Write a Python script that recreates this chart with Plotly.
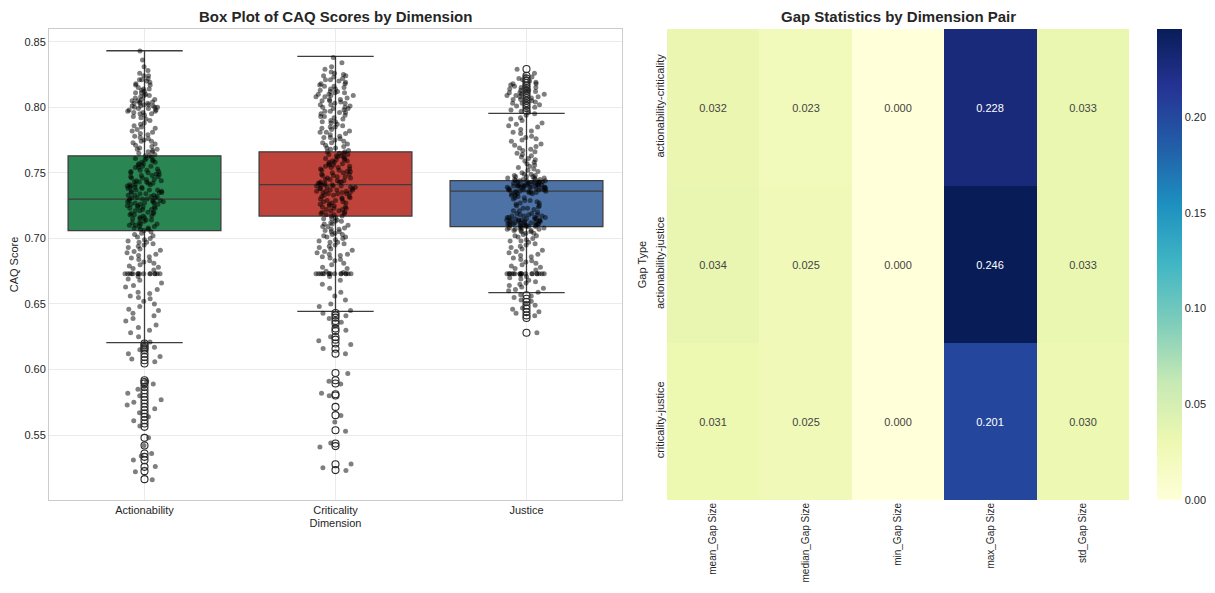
import plotly.graph_objects as go
import plotly.colors as pc

# ---------------- data ----------------
DIMENSIONS = ["Actionability", "Criticality", "Justice"]
BOX_COLORS = ["#2a8753", "#c0433b", "#4c72a6"]

# box statistics
Q1 = [0.706, 0.717, 0.709]
MEDIAN = [0.730, 0.741, 0.736]
Q3 = [0.763, 0.766, 0.744]
LOWER_WHISKER = [0.6205, 0.6444, 0.6586]
UPPER_WHISKER = [0.8431, 0.8388, 0.7954]

# outliers (open circles)
ACT_OUTLIERS = [0.6198, 0.6185, 0.6172, 0.6160, 0.6147, 0.6121, 0.6096, 0.6071, 0.6046,
                0.5918, 0.5905, 0.5893, 0.5868, 0.5842, 0.5817, 0.5791, 0.5766, 0.5741,
                0.5715, 0.5690, 0.5664, 0.5639, 0.5614, 0.5588, 0.5563,
                0.5479, 0.5421, 0.5360, 0.5334, 0.5309, 0.5258, 0.5225, 0.5164]
CRI_OUTLIERS = [0.6431, 0.6413, 0.6396, 0.6370, 0.6350, 0.6312, 0.6294, 0.6248, 0.6228,
                0.6198, 0.6159, 0.6121, 0.5974, 0.5918, 0.5893, 0.5812, 0.5802, 0.5715,
                0.5652, 0.5537, 0.5436, 0.5416, 0.5278, 0.5233]
JUS_OUTLIERS = [0.8292, 0.8241, 0.8220, 0.8203, 0.8185, 0.8165, 0.8146, 0.8127, 0.8108,
                0.8089, 0.8070, 0.8051, 0.8032, 0.8013, 0.7994, 0.7974,
                0.6566, 0.6540, 0.6515, 0.6489, 0.6464, 0.6438, 0.6413, 0.6393, 0.6281]

# individual scores (strip points)
ACT_POINTS = [
    0.843, 0.836, 0.831, 0.828,
    0.826, 0.824, 0.824, 0.822, 0.821, 0.821, 0.820, 0.819,
    0.818, 0.817, 0.817, 0.815, 0.814, 0.814, 0.813, 0.812, 0.811, 0.811, 0.810, 0.809, 0.809, 0.808,
    0.807, 0.806, 0.806, 0.805, 0.805, 0.804, 0.804, 0.803, 0.803, 0.803, 0.802, 0.802, 0.801, 0.801,
    0.801, 0.800, 0.800, 0.800, 0.799, 0.799, 0.798, 0.798, 0.797, 0.797, 0.796, 0.796, 0.795, 0.795, 0.794,
    0.793, 0.792, 0.791, 0.790, 0.788, 0.787, 0.786, 0.785, 0.784, 0.783, 0.782, 0.781, 0.780, 0.779, 0.778,
    0.777, 0.776, 0.775, 0.774, 0.774, 0.773, 0.772, 0.771, 0.770, 0.769, 0.768, 0.768, 0.767, 0.766, 0.766, 0.765,
    0.764, 0.763, 0.763, 0.762, 0.761, 0.761, 0.760, 0.760, 0.759, 0.758, 0.758, 0.757, 0.757, 0.756, 0.755,
    0.755, 0.754, 0.754, 0.753, 0.752, 0.752, 0.751, 0.751, 0.750, 0.750, 0.749, 0.749, 0.748, 0.748, 0.747,
    0.747, 0.746, 0.746, 0.745, 0.745,
    0.744, 0.744, 0.743, 0.743, 0.743, 0.742, 0.742, 0.741, 0.741, 0.741, 0.740, 0.740, 0.739, 0.739, 0.739,
    0.738, 0.738, 0.737, 0.737, 0.737, 0.736, 0.736, 0.735, 0.735, 0.735, 0.734, 0.734, 0.733, 0.733, 0.733,
    0.732, 0.732, 0.731, 0.731, 0.731, 0.730, 0.730, 0.730, 0.729, 0.729, 0.729, 0.728, 0.728, 0.728, 0.727,
    0.727, 0.727, 0.726, 0.726, 0.726, 0.725, 0.725, 0.724, 0.724, 0.724, 0.723, 0.723, 0.722, 0.722, 0.721,
    0.721, 0.720, 0.720,
    0.719, 0.719, 0.718, 0.718, 0.717, 0.717, 0.716, 0.716, 0.715, 0.715, 0.714, 0.714, 0.713, 0.712, 0.712,
    0.711, 0.711, 0.710, 0.710, 0.709, 0.709, 0.708, 0.708, 0.707, 0.707, 0.706,
    0.705, 0.704, 0.703, 0.702, 0.701, 0.700, 0.699, 0.698, 0.697, 0.697, 0.696, 0.695, 0.694, 0.693, 0.692,
    0.691, 0.690, 0.689, 0.688, 0.687, 0.686, 0.685, 0.684, 0.683, 0.682, 0.681, 0.680, 0.679, 0.678, 0.677, 0.676,
    0.673, 0.673, 0.673, 0.673, 0.673, 0.673, 0.673, 0.673, 0.673, 0.673, 0.673, 0.673, 0.673, 0.673, 0.673,
    0.671, 0.669, 0.668, 0.666, 0.664, 0.663, 0.661, 0.659, 0.658, 0.656, 0.655, 0.654,
    0.652, 0.650, 0.648, 0.646, 0.645, 0.643, 0.641, 0.639, 0.637, 0.634, 0.632, 0.630, 0.628, 0.625,
    0.621, 0.619, 0.617, 0.615, 0.612, 0.610, 0.608, 0.606,
    0.591, 0.589, 0.587, 0.585, 0.582, 0.580, 0.577, 0.575, 0.573, 0.570, 0.567, 0.564, 0.561, 0.557,
    0.548, 0.542, 0.536, 0.534, 0.531, 0.526, 0.522, 0.516,
]
CRI_POINTS = [
    0.838, 0.834, 0.831, 0.829, 0.827,
    0.826, 0.825, 0.824, 0.824, 0.823, 0.822, 0.821, 0.821, 0.820, 0.819, 0.818, 0.818, 0.817, 0.816,
    0.816, 0.815, 0.814, 0.814, 0.813, 0.812, 0.812, 0.811, 0.811, 0.810, 0.810,
    0.809, 0.809, 0.808, 0.808, 0.807, 0.806, 0.806, 0.805, 0.805, 0.804, 0.803, 0.803, 0.802, 0.802,
    0.801, 0.800, 0.800, 0.799, 0.799, 0.798, 0.797, 0.797, 0.796, 0.796, 0.795,
    0.794, 0.793, 0.793, 0.792, 0.791, 0.790, 0.789, 0.789, 0.788, 0.787, 0.786, 0.785, 0.785, 0.784,
    0.783, 0.782, 0.781, 0.781, 0.780, 0.779, 0.778, 0.777, 0.777, 0.776, 0.775, 0.774, 0.773, 0.773,
    0.772, 0.771, 0.770, 0.769, 0.769, 0.768, 0.767,
    0.766, 0.766, 0.765, 0.765, 0.764, 0.764, 0.763, 0.763, 0.762, 0.762, 0.761, 0.761, 0.760, 0.760,
    0.759, 0.759, 0.758, 0.758, 0.757, 0.757, 0.756, 0.756, 0.755, 0.755, 0.754, 0.754, 0.753, 0.753,
    0.752, 0.752, 0.751, 0.751, 0.750, 0.750, 0.749, 0.749, 0.748, 0.748, 0.747, 0.747, 0.746, 0.746,
    0.745, 0.745,
    0.744, 0.744, 0.743, 0.743, 0.743, 0.742, 0.742, 0.742, 0.741, 0.741, 0.741, 0.740, 0.740, 0.740,
    0.739, 0.739, 0.739, 0.738, 0.738, 0.738, 0.737, 0.737, 0.737, 0.736, 0.736, 0.736, 0.735, 0.735,
    0.735, 0.734, 0.734, 0.734, 0.733, 0.733, 0.732, 0.732, 0.731, 0.731, 0.730, 0.730, 0.729, 0.729,
    0.728, 0.728, 0.727, 0.727, 0.726, 0.726, 0.725, 0.725,
    0.724, 0.724, 0.723, 0.723, 0.722, 0.722, 0.721, 0.721, 0.720, 0.720, 0.719, 0.719, 0.718, 0.718,
    0.717, 0.717,
    0.716, 0.715, 0.715, 0.714, 0.713, 0.713, 0.712, 0.711, 0.711, 0.710, 0.709, 0.709, 0.708, 0.707,
    0.707, 0.706, 0.705, 0.705, 0.704, 0.703, 0.703, 0.702, 0.701, 0.701, 0.700,
    0.699, 0.698, 0.697, 0.697, 0.696, 0.695, 0.694, 0.693, 0.692, 0.691, 0.690, 0.689, 0.688, 0.688,
    0.687, 0.686, 0.685,
    0.684, 0.683, 0.681, 0.680, 0.678, 0.677, 0.675, 0.674,
    0.673, 0.673, 0.673, 0.673, 0.673, 0.673, 0.673, 0.673, 0.673, 0.673, 0.673, 0.673, 0.673, 0.673, 0.673,
    0.671, 0.668, 0.665, 0.662, 0.659, 0.656,
    0.653, 0.650, 0.648, 0.645, 0.643, 0.641,
    0.639, 0.636, 0.633, 0.630, 0.625, 0.622, 0.619, 0.616, 0.612,
    0.597, 0.591, 0.589, 0.582, 0.580,
    0.565, 0.560, 0.553, 0.544, 0.541,
    0.528, 0.525, 0.523,
]
JUS_POINTS = [
    0.829, 0.826, 0.824, 0.823, 0.822, 0.821, 0.820, 0.819, 0.818, 0.818, 0.817, 0.816, 0.816, 0.815,
    0.815, 0.814, 0.814, 0.813, 0.813, 0.812, 0.812, 0.811, 0.811, 0.810, 0.810, 0.809, 0.809, 0.808,
    0.808, 0.807, 0.806, 0.806, 0.805, 0.805, 0.804, 0.803, 0.803, 0.802, 0.801, 0.800,
    0.799, 0.798, 0.797, 0.796, 0.795,
    0.794, 0.792, 0.791, 0.790, 0.788, 0.787, 0.786, 0.785, 0.783, 0.782, 0.781, 0.780, 0.778, 0.777,
    0.776, 0.775, 0.774, 0.772, 0.771, 0.770, 0.769, 0.768, 0.767, 0.766, 0.765, 0.764, 0.763, 0.762,
    0.761, 0.760, 0.759, 0.758, 0.757, 0.756, 0.755, 0.754, 0.753, 0.752, 0.751, 0.750,
    0.749, 0.749, 0.748, 0.748, 0.747, 0.747, 0.747, 0.746, 0.746, 0.746, 0.745, 0.745, 0.745, 0.745,
    0.744, 0.744, 0.744, 0.744, 0.743, 0.743, 0.743, 0.743, 0.743, 0.742, 0.742, 0.742, 0.742, 0.742,
    0.741, 0.741, 0.741, 0.741, 0.741, 0.741, 0.740, 0.740, 0.740, 0.740, 0.740, 0.740, 0.739, 0.739,
    0.739, 0.739, 0.739, 0.739, 0.738, 0.738, 0.738, 0.738, 0.738, 0.737, 0.737, 0.737, 0.737, 0.737,
    0.736, 0.736, 0.736, 0.736, 0.735, 0.735, 0.735, 0.735, 0.734, 0.734, 0.734,
    0.733, 0.733, 0.732, 0.731, 0.731, 0.730, 0.729, 0.729, 0.728, 0.727, 0.727, 0.726, 0.725, 0.725,
    0.724, 0.723, 0.723, 0.722, 0.721, 0.721, 0.720,
    0.719, 0.719, 0.718, 0.718, 0.718, 0.717, 0.717, 0.717, 0.716, 0.716, 0.716, 0.716, 0.715, 0.715,
    0.715, 0.715, 0.714, 0.714, 0.714, 0.714, 0.714, 0.713, 0.713, 0.713, 0.713, 0.713, 0.712, 0.712,
    0.712, 0.712, 0.712, 0.711, 0.711, 0.711, 0.711, 0.711, 0.710, 0.710, 0.710, 0.710, 0.710, 0.709,
    0.709, 0.709, 0.709, 0.708, 0.708, 0.708, 0.708, 0.707, 0.707, 0.707, 0.706, 0.706, 0.706, 0.705,
    0.705, 0.704, 0.704,
    0.703, 0.702, 0.702, 0.701, 0.700, 0.699, 0.698, 0.698, 0.697, 0.696, 0.695, 0.694, 0.693, 0.692,
    0.691, 0.690, 0.689, 0.688, 0.687, 0.686, 0.685, 0.684, 0.683, 0.682, 0.681, 0.680, 0.679, 0.678,
    0.677, 0.676,
    0.673, 0.673, 0.673, 0.673, 0.673, 0.673, 0.673, 0.673, 0.673, 0.673, 0.673, 0.673, 0.673, 0.673,
    0.673, 0.673, 0.673, 0.673,
    0.672, 0.671, 0.670, 0.669, 0.668, 0.667, 0.666, 0.665, 0.664, 0.663, 0.662, 0.661, 0.660, 0.659,
    0.657, 0.656, 0.655, 0.653, 0.652, 0.650, 0.649, 0.647, 0.646, 0.644, 0.643, 0.641,
    0.628,
]

POINTS = [ACT_POINTS, CRI_POINTS, JUS_POINTS]
OUTLIERS = [ACT_OUTLIERS, CRI_OUTLIERS, JUS_OUTLIERS]

# heatmap
GAP_PAIRS = ["actionability-criticality", "actionability-justice", "criticality-justice"]
GAP_STATS = ["mean_Gap Size", "median_Gap Size", "min_Gap Size", "max_Gap Size", "std_Gap Size"]
GAP_VALUES = [
    [0.032, 0.023, 0.000, 0.228, 0.033],
    [0.034, 0.025, 0.000, 0.246, 0.033],
    [0.031, 0.025, 0.000, 0.201, 0.030],
]

# ---------------- figure ----------------
# the page body has an 8px margin, so the figure is drawn 16px smaller
OFF = 8
WF, HF = 1215 - 2 * OFF, 593 - 2 * OFF
FONT = "Liberation Sans, Arial, Helvetica, sans-serif"
TXT = "#262626"
# strips are drawn in value bands so the jitter spreads evenly in each band
BAND_EDGES = [0.0, 0.600, 0.640, 0.6725, 0.6735, 0.700, 0.770, 0.800, 1.0]


def px_x(p):
    return (p - OFF) / WF


def px_y(p):
    return 1 - (p - OFF) / HF


fig = go.Figure()

for i, dim in enumerate(DIMENSIONS):
    fig.add_trace(go.Box(
        x=[dim], q1=[Q1[i]], median=[MEDIAN[i]], q3=[Q3[i]],
        lowerfence=[LOWER_WHISKER[i]], upperfence=[UPPER_WHISKER[i]],
        fillcolor=BOX_COLORS[i], line=dict(color="#3d3d3d", width=1.3),
        width=0.8, whiskerwidth=0.5, boxpoints=False, showlegend=False,
        hoverinfo="skip", xaxis="x", yaxis="y",
    ))

for i, dim in enumerate(DIMENSIONS):
    for lo, hi in zip(BAND_EDGES[:-1], BAND_EDGES[1:]):
        vals = [v for v in POINTS[i] if lo <= v < hi]
        if not vals:
            continue
        fig.add_trace(go.Box(
            x=[dim] * len(vals), y=vals,
            boxpoints="all", jitter=1.0, pointpos=0, width=0.21,
            fillcolor="rgba(0,0,0,0)", line=dict(color="rgba(0,0,0,0)", width=0),
            whiskerwidth=0,
            marker=dict(color="rgba(0,0,0,0.5)", size=5, line=dict(width=0)),
            showlegend=False, hoverinfo="y", xaxis="x", yaxis="y",
        ))

for i, dim in enumerate(DIMENSIONS):
    fig.add_trace(go.Scatter(
        x=[dim] * len(OUTLIERS[i]), y=OUTLIERS[i], mode="markers",
        marker=dict(symbol="circle-open", size=7, color="#2b2b2b", line=dict(width=1.1)),
        showlegend=False, hoverinfo="y", xaxis="x", yaxis="y",
    ))

fig.add_trace(go.Heatmap(
    z=GAP_VALUES, x=GAP_STATS, y=GAP_PAIRS,
    colorscale=pc.sequential.YlGnBu, zmin=0, zmax=0.246,
    texttemplate="%{z:.3f}", textfont=dict(size=11, family=FONT),
    xaxis="x2", yaxis="y2",
    colorbar=dict(
        x=px_x(1157), xanchor="left", thickness=25, xpad=0, ypad=0,
        len=(500 - 29) / HF, lenmode="fraction",
        y=(px_y(29) + px_y(500)) / 2, yanchor="middle",
        tickvals=[0, 0.05, 0.10, 0.15, 0.20],
        ticktext=["0.00", "0.05", "0.10", "0.15", "0.20"],
        tickfont=dict(size=11, color=TXT, family=FONT),
        outlinewidth=0, ticks="", ticklabelposition="outside",
    ),
))

ydom = [px_y(500), px_y(29)]

fig.update_layout(
    width=WF, height=HF,
    margin=dict(l=0, r=0, t=0, b=0, autoexpand=False),
    paper_bgcolor="white", plot_bgcolor="white",
    font=dict(family=FONT, size=11, color=TXT),
    boxmode="overlay",
    xaxis=dict(
        domain=[px_x(49), px_x(622)], type="category", automargin=False,
        categoryorder="array", categoryarray=DIMENSIONS, range=[-0.5, 2.5],
        showgrid=True, gridcolor="#ebebeb", gridwidth=1,
        showline=True, linecolor="#cccccc", linewidth=1, mirror=True,
        ticks="", tickfont=dict(size=11, color=TXT),
        title=dict(text="Dimension", font=dict(size=11, color=TXT), standoff=4),
        zeroline=False,
    ),
    yaxis=dict(
        domain=ydom, range=[0.5005, 0.8597], automargin=False,
        tickvals=[0.55, 0.60, 0.65, 0.70, 0.75, 0.80, 0.85],
        ticktext=["0.55", "0.60", "0.65", "0.70", "0.75", "0.80", "0.85"],
        showgrid=True, gridcolor="#ebebeb", gridwidth=1,
        showline=True, linecolor="#cccccc", linewidth=1, mirror=True,
        ticks="", tickfont=dict(size=11, color=TXT), zeroline=False,
        title=dict(text="CAQ Score", font=dict(size=11, color=TXT), standoff=8),
    ),
    xaxis2=dict(
        domain=[px_x(667), px_x(1129)], anchor="y2", automargin=False,
        showgrid=False, showline=False, zeroline=False, ticks="",
        tickangle=-90, tickfont=dict(size=10, color=TXT),
    ),
    yaxis2=dict(
        domain=ydom, anchor="x2", autorange="reversed", automargin=False,
        showgrid=False, showline=False, zeroline=False, ticks="",
        tickangle=-90, tickfont=dict(size=11, color=TXT),
        title=dict(text="Gap Type", font=dict(size=11, color=TXT), standoff=4),
    ),
    annotations=[
        dict(text="<b>Box Plot of CAQ Scores by Dimension</b>", x=(px_x(49) + px_x(622)) / 2,
             y=px_y(17), xref="paper", yref="paper", showarrow=False,
             font=dict(size=15, color=TXT, family=FONT), xanchor="center", yanchor="middle"),
        dict(text="<b>Gap Statistics by Dimension Pair</b>", x=(px_x(667) + px_x(1129)) / 2,
             y=px_y(17), xref="paper", yref="paper", showarrow=False,
             font=dict(size=15, color=TXT, family=FONT), xanchor="center", yanchor="middle"),
    ],
)

fig.write_html("out.html")
